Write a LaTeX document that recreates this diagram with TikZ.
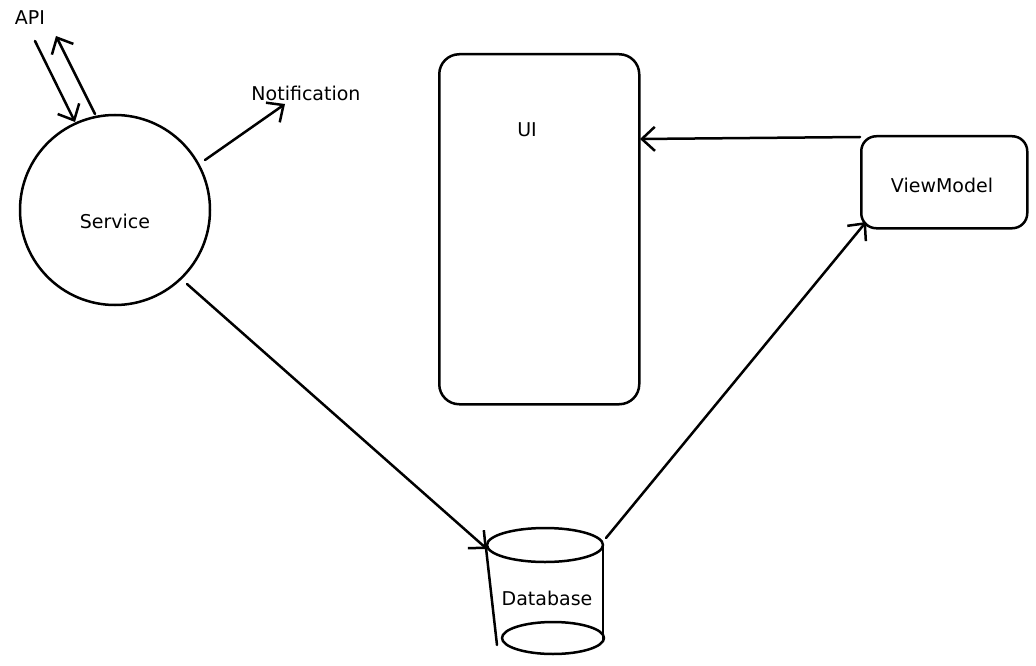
\documentclass[tikz,border=0pt]{standalone}
\usepackage{fontspec}
\setmainfont{DejaVu Sans}
\usetikzlibrary{arrows.meta,shapes.geometric}
\begin{document}
\begin{tikzpicture}[x=1pt,y=-1pt,
  ink/.style={draw=black, line width=2.5pt, line cap=round, line join=round},
  conn/.style={ink, -{Straight Barb[length=13pt,width=24pt,line width=2.5pt]}},
  lbl/.style={font=\fontsize{19}{22}\selectfont, inner sep=0pt}]
\useasboundingbox (0,0) rectangle (1036,666);

% Service
\node[ink, circle, minimum size=190pt, inner sep=0pt] (service) at (115,210) {};
\node[lbl] (servicelbl) at (115,221) {Service};

% UI screen
\node[ink, rectangle, rounded corners=20pt, minimum width=200pt, minimum height=350pt, anchor=north west] (ui) at (438,53) {};
\node[lbl] (uilbl) at (527,130) {UI};

% ViewModel
\node[ink, rectangle, rounded corners=15pt, minimum width=166pt, minimum height=92pt, anchor=north west] (vm) at (860,135) {};
\node[lbl] (vmlbl) at (942,185) {ViewModel};

% Database cylinder
\coordinate (dbtl) at (486,548);
\coordinate (dbtr) at (603,546);
\coordinate (dbbl) at (497,645);
\coordinate (dbbr) at (603,640);
\draw[ink] (545,545) ellipse [x radius=58, y radius=17];
\draw[ink] (553,638) ellipse [x radius=51, y radius=16];
\draw[ink] (dbtl) -- (dbbl);
\draw[ink] (dbtr) -- (dbbr);
\node[lbl] (dblbl) at (547,598) {Database};
\coordinate (dbin) at (487,549);
\coordinate (dbout) at (606,538);

% Labels without boxes
\node[lbl] (api) at (30,18) {API};
\node[lbl] (notif) at (306,93) {Notification};

% Connector end points
\coordinate (apiin) at (35,41);
\coordinate (apiout) at (56,36);
\coordinate (svctop) at (75,122);
\coordinate (svctop2) at (95,114);
\coordinate (svcnote) at (205,160);
\coordinate (notetip) at (285,104);
\coordinate (svcdb) at (187,284);
\coordinate (vmin) at (866,222);
\coordinate (vmout) at (860,137);
\coordinate (uiin) at (640,139);

% Connectors
\draw[conn] (apiin) -- (svctop);
\draw[conn] (svctop2) -- (apiout);
\draw[conn] (svcnote) -- (notetip);
\draw[conn] (svcdb) -- (dbin);
\draw[conn] (dbout) -- (vmin);
\draw[conn] (vmout) -- (uiin);
\end{tikzpicture}
\end{document}
